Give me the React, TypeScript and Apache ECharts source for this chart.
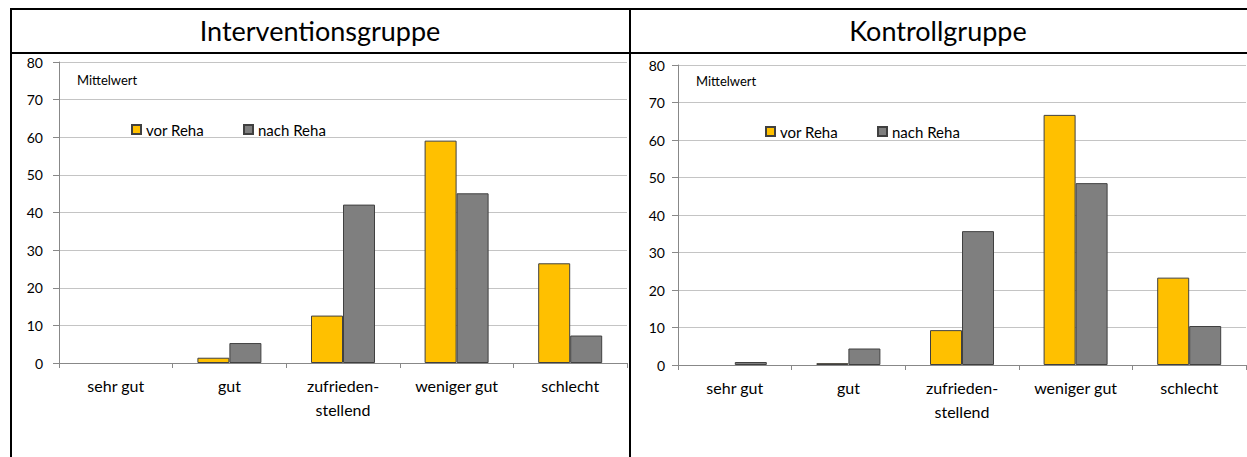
import React, { useEffect, useRef } from "react";
import * as echarts from "echarts";

const categories = ["sehr gut", "gut", "zufrieden-\nstellend", "weniger gut", "schlecht"];
const seriesNames = ["vor Reha", "nach Reha"];
const panelTitles = ["Interventionsgruppe", "Kontrollgruppe"];
const yLabel = "Mittelwert";

const interventionVor = [0, 1.4, 12.6, 59.1, 26.5];
const interventionNach = [0, 5.3, 42.1, 45.1, 7.3];
const kontrolleVor = [0, 0.5, 9.3, 66.7, 23.3];
const kontrolleNach = [0.8, 4.4, 35.7, 48.5, 10.4];

const FONT = "Lato";
const YELLOW = "#FFC000";
const GRAY = "#7F7F7F";
const EDGE = "#404040";
const AXIS = "#888888";
const GRID = "#C4C4C4";

// zero values draw no outline (an empty bar), as in the reference
const toBarData = (values: number[]) =>
  values.map((v) => (v === 0 ? { value: v, itemStyle: { borderWidth: 0 } } : v));

export default function App() {
  const ref = useRef<HTMLDivElement>(null);

  useEffect(() => {
    if (!ref.current) return;
    const chart = echarts.init(ref.current, null, { renderer: "svg" });

    const xAxisCommon = {
      type: "category",
      data: categories,
      axisLine: { show: true, lineStyle: { color: AXIS, width: 1 } },
      axisTick: { show: true, length: 5, lineStyle: { color: AXIS } },
      axisLabel: {
        color: "#000",
        fontSize: 16,
        fontFamily: FONT,
        margin: 10,
        lineHeight: 24,
        interval: 0,
      },
    };
    const yAxisCommon = {
      type: "value",
      min: 0,
      max: 80,
      interval: 10,
      axisLine: { show: true, lineStyle: { color: AXIS, width: 1 } },
      axisTick: { show: true, length: 6, lineStyle: { color: AXIS } },
      splitLine: { show: true, lineStyle: { color: GRID, width: 1 } },
    };

    const barCommon = {
      type: "bar",
      barWidth: 32,
      barGap: "0%",
      label: { show: false },
    };

    const legendItem = (name: string, left: number, top: number) => ({
      data: [name],
      left,
      top,
      orient: "horizontal",
      icon: "rect",
      itemWidth: 9,
      itemHeight: 9,
      padding: 0,
      selectedMode: false,
      textStyle: { color: "#000", fontSize: 15, fontFamily: FONT },
    });

    const option = {
      animation: false,
      backgroundColor: "#fff",
      textStyle: { fontFamily: FONT },
      grid: [
        { left: 59, top: 62, width: 568, height: 301 },
        { left: 678, top: 65, width: 568, height: 300 },
      ],
      legend: [
        legendItem(seriesNames[0], 131, 122),
        legendItem(seriesNames[1], 243, 122),
        legendItem(seriesNames[0], 765, 124),
        legendItem(seriesNames[1], 877, 124),
      ],
      xAxis: [
        { ...xAxisCommon, gridIndex: 0 },
        { ...xAxisCommon, gridIndex: 1 },
      ],
      yAxis: [
        {
          ...yAxisCommon,
          gridIndex: 0,
          axisLabel: { color: "#000", fontSize: 14, fontFamily: FONT, margin: 16 },
        },
        {
          ...yAxisCommon,
          gridIndex: 1,
          axisLabel: { color: "#000", fontSize: 14, fontFamily: FONT, margin: 13 },
        },
      ],
      series: [
        {
          ...barCommon,
          name: seriesNames[0],
          xAxisIndex: 0,
          yAxisIndex: 0,
          data: toBarData(interventionVor),
          itemStyle: { color: YELLOW, borderColor: EDGE, borderWidth: 1 },
        },
        {
          ...barCommon,
          name: seriesNames[1],
          xAxisIndex: 0,
          yAxisIndex: 0,
          data: toBarData(interventionNach),
          itemStyle: { color: GRAY, borderColor: EDGE, borderWidth: 1 },
        },
        {
          ...barCommon,
          name: seriesNames[0],
          xAxisIndex: 1,
          yAxisIndex: 1,
          data: toBarData(kontrolleVor),
          itemStyle: { color: YELLOW, borderColor: EDGE, borderWidth: 1 },
        },
        {
          ...barCommon,
          name: seriesNames[1],
          xAxisIndex: 1,
          yAxisIndex: 1,
          data: toBarData(kontrolleNach),
          itemStyle: { color: GRAY, borderColor: EDGE, borderWidth: 1 },
        },
      ],
      graphic: [
        {
          type: "line",
          shape: { x1: 10, y1: 9, x2: 1247, y2: 9 },
          style: { stroke: "#000", lineWidth: 2 },
        },
        {
          type: "line",
          shape: { x1: 10, y1: 53, x2: 1247, y2: 53 },
          style: { stroke: "#000", lineWidth: 2 },
        },
        {
          type: "line",
          shape: { x1: 11, y1: 8, x2: 11, y2: 457 },
          style: { stroke: "#000", lineWidth: 2 },
        },
        {
          type: "line",
          shape: { x1: 630, y1: 8, x2: 630, y2: 457 },
          style: { stroke: "#000", lineWidth: 2 },
        },
        {
          type: "text",
          x: 320,
          y: 30,
          style: {
            text: panelTitles[0],
            fontSize: 27,
            fontFamily: FONT,
            fill: "#000",
            align: "center",
            verticalAlign: "middle",
          },
        },
        {
          type: "text",
          x: 938,
          y: 30,
          style: {
            text: panelTitles[1],
            fontSize: 27,
            fontFamily: FONT,
            fill: "#000",
            align: "center",
            verticalAlign: "middle",
          },
        },
        {
          type: "text",
          x: 77,
          y: 80,
          style: {
            text: yLabel,
            fontSize: 13,
            fontFamily: FONT,
            fill: "#000",
            align: "left",
            verticalAlign: "middle",
          },
        },
        {
          type: "text",
          x: 696,
          y: 81,
          style: {
            text: yLabel,
            fontSize: 13,
            fontFamily: FONT,
            fill: "#000",
            align: "left",
            verticalAlign: "middle",
          },
        },
      ],
    };

    chart.setOption(option as any);
    return () => chart.dispose();
  }, []);

  return (
    <div
      ref={ref}
      style={{ position: "absolute", left: 0, top: 0, width: 1247, height: 457, background: "#fff" }}
    />
  );
}
